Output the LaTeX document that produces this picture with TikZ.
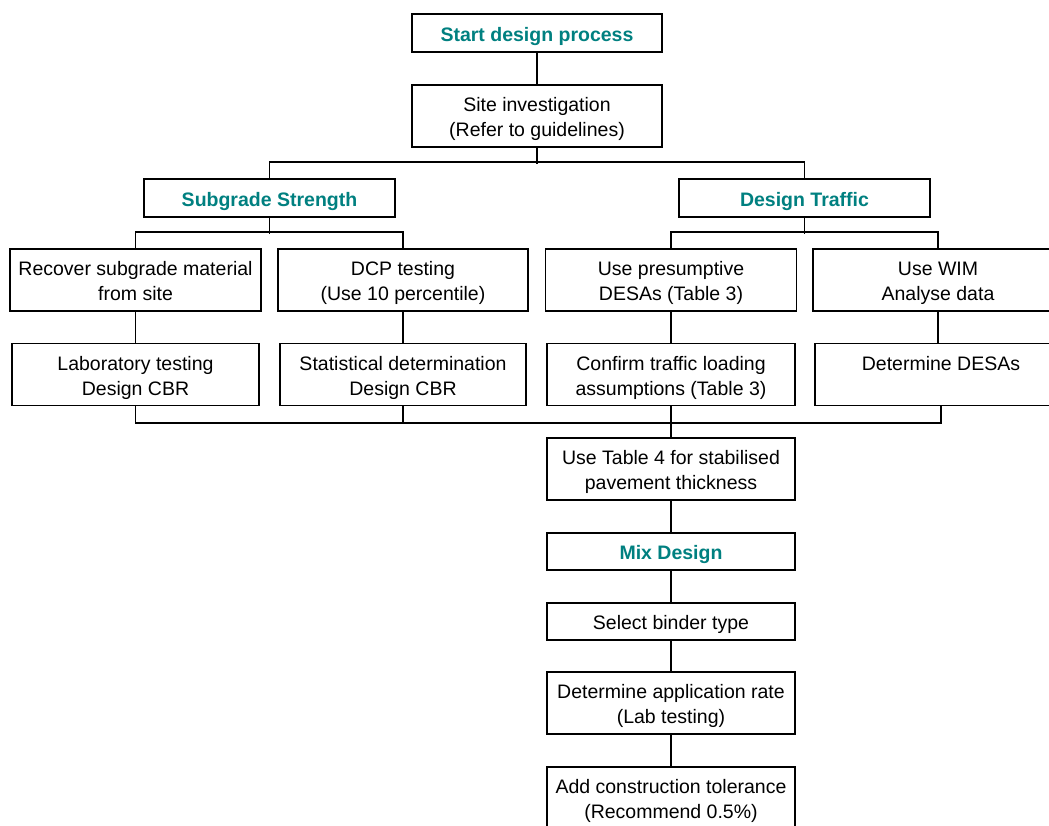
\documentclass[tikz,border=0pt]{standalone}
\usepackage{fontspec}
\setmainfont{Liberation Sans}
\definecolor{headteal}{RGB}{0,128,128}
\newcommand\mytop{\rule{0pt}{21pt}}
\newcommand\mybot{\rule[-5pt]{0pt}{5pt}}
\begin{document}
\begin{tikzpicture}[x=1pt,y=1pt,
  every node/.style={font=\fontsize{19.5}{25}\selectfont},
  box/.style={draw=black,line width=1.8pt,fill=white,align=center,inner sep=0pt,minimum width=#1,
    execute at begin node={\rule{0pt}{21pt}},
    execute at end node={\rule[-5pt]{0pt}{5pt}}},
  box/.default=250pt,
  head/.style={box=#1,minimum height=38pt,text=headteal,font=\fontsize{19.5}{25}\selectfont\bfseries},
  head/.default=250pt,
  two/.style={minimum height=62pt},
  one/.style={minimum height=37pt},
  conn/.style={line width=1.9pt,line cap=rect}]
\useasboundingbox (0,0) rectangle (1049,-825);
\clip (0,0) rectangle (1049,-825);
% nodes
\node[head=250pt] (start) at (537,-33) {Start design process};
\node[box=250pt,two] (site) at (537,-116) {\mytop Site investigation\\(Refer to guidelines)\mybot};
\node[head=251pt] (subgrade) at (269.5,-198) {Subgrade Strength};
\node[head=251pt] (traffic) at (804.5,-198) {Design Traffic};
\node[box=251pt,two] (recover) at (135.5,-280) {\mytop Recover subgrade material\\from site\mybot};
\node[box=250pt,two] (dcp) at (403,-280) {\mytop DCP testing\\(Use 10 percentile)\mybot};
\node[box=251pt,two] (pres) at (671,-280) {\mytop Use presumptive\\DESAs (Table 3)\mybot};
\node[box=250pt,two] (wim) at (938,-280) {\mytop Use WIM\\Analyse data\mybot};
\node[box=247pt,two] (lab) at (135.5,-374.5) {\mytop Laboratory testing\\Design CBR\mybot};
\node[box=246pt,two] (stat) at (403,-374.5) {\mytop Statistical determination\\Design CBR\mybot};
\node[box=248pt,two] (confirm) at (671,-374.5) {\mytop Confirm traffic loading\\assumptions (Table 3)\mybot};
\node[box=252pt,two] (determine) at (941,-374.5) {\mytop Determine DESAs\\\mybot};
\node[box=248pt,two] (table4) at (671,-469) {\mytop Use Table 4 for stabilised\\pavement thickness\mybot};
\node[head=248pt,minimum height=37pt] (mix) at (671,-551.5) {Mix Design};
\node[box=248pt,one] (binder) at (671,-621.5) {Select binder type};
\node[box=248pt,two] (apprate) at (671,-703) {\mytop Determine application rate\\(Lab testing)\mybot};
\node[box=248pt,two] (addtol) at (671,-798) {\mytop Add construction tolerance\\(Recommend 0.5\%)\mybot};
% connectors
\draw[conn] (start.south) -- (site.north);
\coordinate (bus1) at (537,-163);
\draw[conn] (site.south) -- (bus1);
\draw[conn] (subgrade.north) -- ++(0,16) -| (traffic.north);
\draw[conn] (subgrade.south) -- (subgrade.south |- 0,-233);
\draw[conn] (recover.north) -- ++(0,16) -| (dcp.north);
\draw[conn] (traffic.south) -- (traffic.south |- 0,-233);
\draw[conn] (pres.north) -- ++(0,16) -| (wim.north);
\draw[conn] (recover.south) -- (lab.north);
\draw[conn] (dcp.south) -- (stat.north);
\draw[conn] (pres.south) -- (confirm.north);
\draw[conn] (wim.south) -- (wim.south |- determine.north);
\coordinate (bus2) at (671,-422);
\draw[conn] (lab.south) -- ++(0,-17) -| (determine.south);
\draw[conn] (stat.south) -- (stat.south |- bus2);
\draw[conn] (confirm.south) -- (table4.north);
\draw[conn] (table4.south) -- (mix.north);
\draw[conn] (mix.south) -- (binder.north);
\draw[conn] (binder.south) -- (apprate.north);
\draw[conn] (apprate.south) -- (addtol.north);
\end{tikzpicture}
\end{document}
